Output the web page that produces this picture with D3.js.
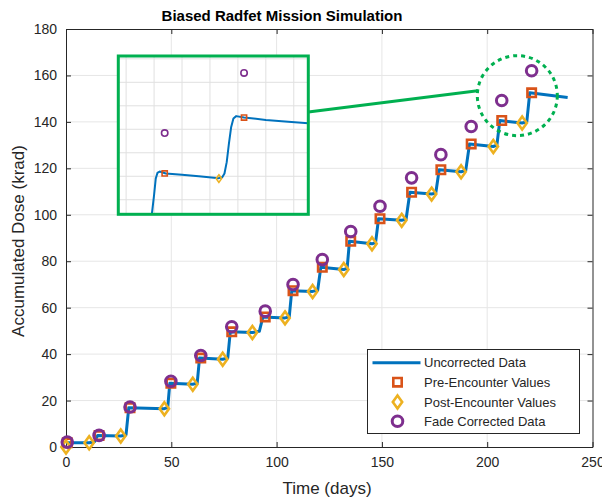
<!DOCTYPE html>
<html>
<head>
<meta charset="utf-8">
<script src="https://d3js.org/d3.v7.min.js"></script>
<style>
  body { margin: 0; background: #fff; }
  svg { font-family: "Liberation Sans", Arial, sans-serif; }
</style>
</head>
<body>
<div id="chart"></div>
<script>
// ---- data ----
const preDays  = [0.6, 15.7, 30.4, 49.8, 64.0, 78.7, 94.6, 107.8, 121.7, 135.2, 149.1, 164.1, 178.0, 192.4, 206.9, 221.1];
const preDose  = [1.8, 4.9, 16.9, 27.5, 38.3, 49.6, 56.0, 67.3, 77.4, 88.6, 98.3, 109.7, 119.4, 130.5, 140.6, 152.5];
const postDays = [0, 11.0, 26.0, 46.7, 60.2, 74.4, 88.5, 104.0, 117.1, 131.9, 145.3, 159.4, 173.6, 187.6, 202.9, 216.6];
const postDose = [0, 1.8, 4.7, 16.5, 27.0, 37.8, 49.3, 55.6, 67.0, 76.4, 87.5, 97.6, 108.9, 118.5, 129.4, 139.5];
const fadeDays = preDays;
const fadeDose = [2.1, 5.0, 17.2, 28.3, 39.4, 51.8, 58.5, 70.0, 80.7, 92.8, 103.7, 115.9, 125.9, 138.0, 149.2, 162.0];

// uncorrected data trace (vertices)
const lineDays = [0, 11, 13.5, 15, 26, 28.5, 29.8, 46.7, 48.3, 49.3, 60.2, 62.3, 63.4, 74.4, 76.8, 78, 88.5, 91.8, 93.5,
  104, 106, 107.2, 117.1, 119.5, 121, 131.9, 133.5, 134.6, 145.3, 147, 148.4, 159.4, 161.5, 163.3, 173.6, 175.6, 177.2,
  187.6, 189.8, 191.6, 202.9, 204.6, 206, 216.6, 218.8, 220.2, 238.2];
const lineDose = [1.8, 1.8, 2.2, 4.9, 4.7, 5.2, 16.9, 16.5, 17.0, 27.5, 27.0, 27.5, 38.3, 37.8, 38.3, 49.6, 49.3, 49.8, 56.0,
  55.6, 56.0, 67.3, 67.0, 67.5, 77.4, 76.4, 77.0, 88.6, 87.5, 88.0, 98.3, 97.6, 98.2, 109.7, 108.9, 109.5, 119.4,
  118.5, 119.0, 130.5, 129.4, 130.0, 140.6, 139.5, 140.0, 152.5, 150.5];

// zoomed trace shown in the inset
const insetDays = [204.6, 205.0, 205.3, 205.6, 206.0, 207.1, 210, 213, 216.6, 217.2, 217.6, 218.0, 218.4, 218.8, 219.2, 219.7, 221.1, 225, 229, 232.6];
const insetDose = [131.9, 136, 139.5, 140.7, 141.0, 140.6, 140.3, 140.0, 139.6, 139.8, 140.6, 143, 147, 150.5, 152.3, 152.8, 152.5, 152.0, 151.6, 151.3];

const xTicks = [0, 50, 100, 150, 200, 250];
const yTicks = [0, 20, 40, 60, 80, 100, 120, 140, 160, 180];
const insetXTicks = [200, 205, 210, 215, 220, 225, 230];
const insetYTicks = [135, 140, 145, 150, 155, 160, 165];

const legendLabels = ["Uncorrected Data", "Pre-Encounter Values", "Post-Encounter Values", "Fade Corrected Data"];

// ---- layout ----
const W = 602, H = 500;
const margin = { top: 29, right: 9.5, bottom: 53, left: 66 };
const width = W - margin.left - margin.right;
const height = H - margin.top - margin.bottom;

const blue = "#0072BD", orange = "#D95319", yellow = "#EDB120", purple = "#7E2F8E", green = "#00B050";
const axisColor = "#262626";

const svg = d3.select("#chart").append("svg").attr("width", W).attr("height", H);
const g = svg.append("g").attr("transform", `translate(${margin.left},${margin.top})`);

const x = d3.scaleLinear().domain([0, 250]).range([0, width]);
const y = d3.scaleLinear().domain([0, 180]).range([height, 0]);

// grid
g.append("g").selectAll("line").data(xTicks.slice(1, -1)).join("line")
  .attr("x1", d => x(d)).attr("x2", d => x(d)).attr("y1", 0).attr("y2", height)
  .attr("stroke", "#e6e6e6").attr("stroke-width", 1);
g.append("g").selectAll("line").data(yTicks.slice(1, -1)).join("line")
  .attr("y1", d => y(d)).attr("y2", d => y(d)).attr("x1", 0).attr("x2", width)
  .attr("stroke", "#e6e6e6").attr("stroke-width", 1);

// axes (ticks inward, box)
function styleAxis(sel) {
  sel.select(".domain").attr("stroke", axisColor);
  sel.selectAll(".tick line").attr("stroke", axisColor);
  sel.selectAll(".tick text").attr("fill", axisColor).attr("font-size", 14)
    .attr("font-family", "Liberation Sans, Arial, sans-serif");
}
g.append("g").attr("transform", `translate(0,${height})`)
  .call(d3.axisBottom(x).tickValues(xTicks).tickSize(-5).tickSizeOuter(0).tickPadding(10))
  .call(styleAxis);
g.append("g")
  .call(d3.axisLeft(y).tickValues(yTicks).tickSize(-5).tickSizeOuter(0).tickPadding(9))
  .call(styleAxis);
g.append("g")
  .call(d3.axisTop(x).tickValues(xTicks).tickSize(-5).tickSizeOuter(0).tickFormat(""))
  .call(styleAxis);
g.append("g").attr("transform", `translate(${width},0)`)
  .call(d3.axisRight(y).tickValues(yTicks).tickSize(-5).tickSizeOuter(0).tickFormat(""))
  .call(styleAxis);

// labels
svg.append("text").attr("x", 282).attr("y", 20.5).attr("text-anchor", "middle")
  .attr("font-size", 15).attr("font-weight", "bold").attr("fill", "#000")
  .text("Biased Radfet Mission Simulation");
svg.append("text").attr("x", 327).attr("y", 494).attr("text-anchor", "middle")
  .attr("font-size", 17).attr("fill", axisColor).text("Time (days)");
svg.append("text").attr("transform", `translate(24,241) rotate(-90)`)
  .attr("text-anchor", "middle").attr("font-size", 17).attr("fill", axisColor)
  .text("Accumulated Dose (krad)");

// marker helpers
const sq = (s) => `M${-s},${-s}H${s}V${s}H${-s}Z`;
const dia = (s) => `M0,${-s}L${s * 0.72},0L0,${s}L${-s * 0.72},0Z`;

function drawSeries(layer, xs, ys, opt) {
  const line = d3.line().x(d => xs(d[0])).y(d => ys(d[1]));
  layer.append("path").datum(d3.zip(opt.lineX, opt.lineY)).attr("d", line)
    .attr("fill", "none").attr("stroke", blue).attr("stroke-width", opt.lw).attr("stroke-linejoin", "round");
  layer.append("g").selectAll("path").data(d3.zip(preDays, preDose)).join("path")
    .attr("transform", d => `translate(${xs(d[0])},${ys(d[1])})`).attr("d", sq(opt.sq))
    .attr("fill", "none").attr("stroke", orange).attr("stroke-width", opt.mw);
  layer.append("g").selectAll("path").data(d3.zip(postDays, postDose)).join("path")
    .attr("transform", d => `translate(${xs(d[0])},${ys(d[1])})`).attr("d", dia(opt.dia))
    .attr("fill", "none").attr("stroke", yellow).attr("stroke-width", opt.mw);
  layer.append("g").selectAll("circle").data(d3.zip(fadeDays, fadeDose)).join("circle")
    .attr("cx", d => xs(d[0])).attr("cy", d => ys(d[1])).attr("r", opt.r)
    .attr("fill", "none").attr("stroke", purple).attr("stroke-width", opt.cw);
}

drawSeries(g, x, y, { lineX: lineDays, lineY: lineDose, lw: 3, sq: 4.2, dia: 6.5, r: 5.3, mw: 2.6, cw: 3 });

// ---- zoom annotation ----
const focusDay = 214.3, focusDose = 151.3, focusR = 40;
g.append("circle").attr("cx", x(focusDay)).attr("cy", y(focusDose)).attr("r", focusR)
  .attr("fill", "none").attr("stroke", green).attr("stroke-width", 3).attr("stroke-dasharray", "4,4");

// inset box (pixel layout, relative to svg)
const inset = { left: 118.3, top: 56, width: 190, height: 158.3 };
const ix = d3.scaleLinear().domain([198.6, 232.6]).range([0, inset.width]);
const iy = d3.scaleLinear().domain([131.9, 165.6]).range([inset.height, 0]);

const ang = 187 * Math.PI / 180;
svg.append("line")
  .attr("x1", inset.left + inset.width).attr("y1", 112)
  .attr("x2", margin.left + x(focusDay) + focusR * Math.cos(ang))
  .attr("y2", margin.top + y(focusDose) + focusR * Math.sin(ang))
  .attr("stroke", green).attr("stroke-width", 3);

const ig = svg.append("g").attr("transform", `translate(${inset.left},${inset.top})`);
svg.append("clipPath").attr("id", "insetClip").append("rect")
  .attr("width", inset.width).attr("height", inset.height);
ig.append("rect").attr("width", inset.width).attr("height", inset.height).attr("fill", "#fff");
const inner = ig.append("g").attr("clip-path", "url(#insetClip)");
inner.append("g").selectAll("line").data(insetXTicks).join("line")
  .attr("x1", d => ix(d)).attr("x2", d => ix(d)).attr("y1", 0).attr("y2", inset.height)
  .attr("stroke", "#e0e0e0");
inner.append("g").selectAll("line").data(insetYTicks).join("line")
  .attr("y1", d => iy(d)).attr("y2", d => iy(d)).attr("x1", 0).attr("x2", inset.width)
  .attr("stroke", "#e0e0e0");
drawSeries(inner, ix, iy, { lineX: insetDays, lineY: insetDose, lw: 2, sq: 2.6, dia: 3.8, r: 3.2, mw: 1.6, cw: 1.6 });
ig.append("rect").attr("width", inset.width).attr("height", inset.height)
  .attr("fill", "none").attr("stroke", green).attr("stroke-width", 3);

// ---- legend ----
const lg = svg.append("g").attr("transform", "translate(367.5,349.5)");
lg.append("rect").attr("width", 212).attr("height", 84).attr("fill", "#fff").attr("stroke", axisColor).attr("stroke-width", 1);
const rowY = [13.2, 32.7, 52.5, 71.8];
lg.append("line").attr("x1", 5).attr("x2", 53).attr("y1", rowY[0]).attr("y2", rowY[0])
  .attr("stroke", blue).attr("stroke-width", 3);
lg.append("path").attr("transform", `translate(30,${rowY[1]})`).attr("d", sq(4.2))
  .attr("fill", "none").attr("stroke", orange).attr("stroke-width", 2.6);
lg.append("path").attr("transform", `translate(30,${rowY[2]})`).attr("d", dia(6.5))
  .attr("fill", "none").attr("stroke", yellow).attr("stroke-width", 2.6);
lg.append("circle").attr("cx", 30).attr("cy", rowY[3]).attr("r", 5.3)
  .attr("fill", "none").attr("stroke", purple).attr("stroke-width", 3);
lg.selectAll("text.lab").data(legendLabels).join("text").attr("class", "lab")
  .attr("x", 56.5).attr("y", (d, i) => rowY[i]).attr("dy", "0.35em")
  .attr("font-size", 13).attr("fill", axisColor).text(d => d);
</script>
</body>
</html>
